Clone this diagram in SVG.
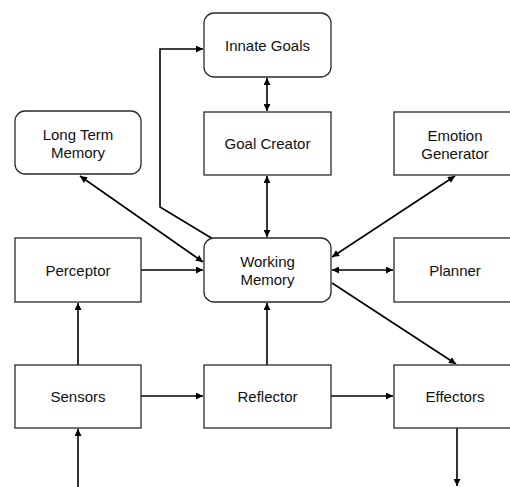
<svg xmlns="http://www.w3.org/2000/svg" width="510" height="487" viewBox="0 0 510 487">
<style>
.box{fill:#fff;stroke:#2a2a2a;stroke-width:1.3}
.t{font-family:"Liberation Sans",Arial,sans-serif;font-size:15px;fill:#111;text-anchor:middle}
.c{fill:none;stroke:#000;stroke-width:1.6}
</style>
<defs>
<marker id="a" viewBox="0 0 10 10" refX="10" refY="5" markerWidth="8" markerHeight="7" markerUnits="userSpaceOnUse" orient="auto-start-reverse">
<path d="M0,0 L10,5 L0,10 z" fill="#000"/>
</marker>
</defs>
<rect width="510" height="487" fill="#fff"/>
<g id="connectors">
<path class="c" d="M213,239 L160,207 L160,49 L203,49" marker-end="url(#a)"/>
<path class="c" d="M267,78 L267,111" marker-start="url(#a)" marker-end="url(#a)"/>
<path class="c" d="M267,176 L267,237" marker-start="url(#a)" marker-end="url(#a)"/>
<path class="c" d="M80,176 L203,262" marker-start="url(#a)" marker-end="url(#a)"/>
<path class="c" d="M455,176 L332,257" marker-start="url(#a)" marker-end="url(#a)"/>
<path class="c" d="M141,270 L203,270" marker-end="url(#a)"/>
<path class="c" d="M332,270 L393,270" marker-start="url(#a)" marker-end="url(#a)"/>
<path class="c" d="M332,283 L456,364" marker-end="url(#a)"/>
<path class="c" d="M78,365 L78,303" marker-end="url(#a)"/>
<path class="c" d="M267,365 L267,303" marker-end="url(#a)"/>
<path class="c" d="M141,396 L203,396" marker-end="url(#a)"/>
<path class="c" d="M331,396 L393,396" marker-end="url(#a)"/>
<path class="c" d="M78,487 L78,429" marker-end="url(#a)"/>
<path class="c" d="M457,428 L457,486" marker-end="url(#a)"/>
</g>
<g id="innate-goals"><rect class="box" x="204" y="13" width="127" height="64" rx="10"/><text class="t" x="267.5" y="51">Innate Goals</text></g>
<g id="goal-creator"><rect class="box" x="204" y="112" width="127" height="63"/><text class="t" x="267.5" y="149">Goal Creator</text></g>
<g id="long-term-memory"><rect class="box" x="15" y="111" width="126" height="63" rx="10"/><text class="t" x="78" y="140">Long Term</text><text class="t" x="78" y="158">Memory</text></g>
<g id="emotion-generator"><rect class="box" x="394" y="112" width="127" height="63"/><text class="t" x="455" y="141">Emotion</text><text class="t" x="455" y="159">Generator</text></g>
<g id="perceptor"><rect class="box" x="15" y="238" width="126" height="64"/><text class="t" x="78" y="276">Perceptor</text></g>
<g id="working-memory"><rect class="box" x="204" y="238" width="127" height="64" rx="10"/><text class="t" x="267.5" y="267">Working</text><text class="t" x="267.5" y="285">Memory</text></g>
<g id="planner"><rect class="box" x="394" y="238" width="127" height="64"/><text class="t" x="455" y="276">Planner</text></g>
<g id="sensors"><rect class="box" x="15" y="365" width="126" height="63"/><text class="t" x="78" y="402">Sensors</text></g>
<g id="reflector"><rect class="box" x="204" y="365" width="127" height="63"/><text class="t" x="267.5" y="402">Reflector</text></g>
<g id="effectors"><rect class="box" x="394" y="365" width="127" height="63"/><text class="t" x="455" y="402">Effectors</text></g>
</svg>
